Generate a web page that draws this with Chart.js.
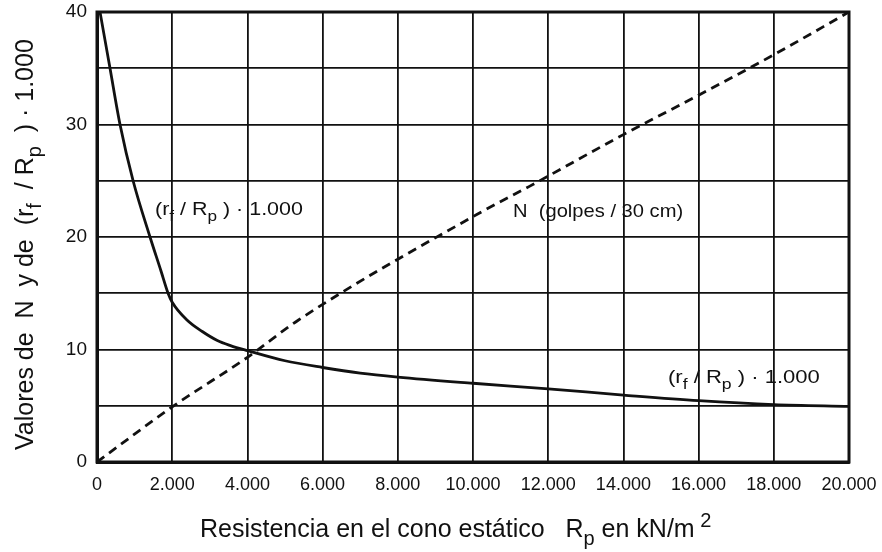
<!DOCTYPE html>
<html>
<head>
<meta charset="utf-8">
<script src="https://cdn.jsdelivr.net/npm/chart.js@4.4.0/dist/chart.umd.min.js"></script>
<style>
  html, body { margin: 0; padding: 0; background: #fff; }
  #chart { display: block; }
</style>
</head>
<body>
<canvas id="chart" width="882" height="552"></canvas>
<script>
// axis ranges
const xMin = 0, xMax = 20000, xStep = 2000;
const yMin = 0, yMax = 40, yStep = 5;
const yLabelTicks = [0, 10, 20, 30, 40];

// (rf / Rp) * 1.000 curve
const rfX = [80, 346, 612, 960, 1410, 1700, 1890, 2000, 2400, 2800, 3200, 3550, 4000, 5000, 6000, 7000, 8000, 10000, 12000, 14000, 16000, 18000, 20000];
const rfY = [40, 35, 30, 25, 20, 17, 15, 14.2, 12.6, 11.6, 10.8, 10.35, 9.9, 9.0, 8.4, 7.9, 7.55, 7.0, 6.5, 5.95, 5.45, 5.1, 4.95];

// N (golpes / 30 cm), dashed
const nX = [0, 2000, 4000, 5350, 10100, 11500, 14000, 16000, 18000, 20000];
const nY = [0, 4.9, 9.3, 12.6, 22.0, 24.5, 29.1, 32.6, 36.2, 40];

const FONT = '"Liberation Sans", Arial, Helvetica, sans-serif';
const INK = '#111';

function fmt(v) {
  return String(v).replace(/\B(?=(\d{3})+(?!\d))/g, '.');
}

// text with sub / superscripts, drawn from (x, y) on the baseline
function drawRich(ctx, parts, x, y, size, hs) {
  ctx.save();
  ctx.translate(x, y);
  ctx.scale(hs || 1, 1);
  let cx = 0;
  parts.forEach(p => {
    const s = (p.sub || p.sup) ? size * 0.8 : size;
    ctx.font = s + 'px ' + FONT;
    const dy = p.sub ? size * 0.3 : (p.sup ? -size * 0.42 : 0);
    ctx.fillText(p.t, cx, dy);
    cx += ctx.measureText(p.t).width;
  });
  ctx.restore();
}

const rfLabel = [{ t: '(r' }, { t: 'f', sub: true }, { t: ' / R' }, { t: 'p', sub: true }, { t: ' ) · 1.000' }];
const nLabel = [{ t: 'N  (golpes / 30 cm)' }];
const yTitle = [{ t: 'Valores de  N  y de  (r' }, { t: 'f', sub: true }, { t: '  / R' }, { t: 'p', sub: true }, { t: '  ) · 1.000' }];
const xTitle = [{ t: 'Resistencia en el cono estático   R' }, { t: 'p', sub: true }, { t: ' en kN/m' }, { t: ' 2', sup: true }];

const textPlugin = {
  id: 'texts',
  afterDraw(chart) {
    const ctx = chart.ctx;
    const a = chart.chartArea;
    ctx.save();
    // frame
    ctx.strokeStyle = INK;
    ctx.lineWidth = 3;
    ctx.strokeRect(a.left, a.top, a.right - a.left, a.bottom - a.top);

    ctx.fillStyle = INK;
    ctx.textAlign = 'left';
    ctx.textBaseline = 'alphabetic';
    drawRich(ctx, rfLabel, 155, 215, 19, 1.13);
    drawRich(ctx, nLabel, 513, 217, 19, 1.06);
    drawRich(ctx, rfLabel, 668, 383, 19, 1.16);
    drawRich(ctx, xTitle, 200, 537, 25);

    ctx.save();
    ctx.translate(33, 450);
    ctx.rotate(-Math.PI / 2);
    drawRich(ctx, yTitle, 0, 0, 25);
    ctx.restore();
    ctx.restore();
  }
};

new Chart(document.getElementById('chart'), {
  type: 'line',
  data: {
    datasets: [
      {
        label: '(rf / Rp) · 1.000',
        data: rfX.map((x, i) => ({ x, y: rfY[i] })),
        borderColor: INK,
        borderWidth: 2.8,
        pointRadius: 0,
        cubicInterpolationMode: 'monotone',
        fill: false
      },
      {
        label: 'N (golpes / 30 cm)',
        data: nX.map((x, i) => ({ x, y: nY[i] })),
        borderColor: INK,
        borderWidth: 2.8,
        borderDash: [9, 6],
        pointRadius: 0,
        cubicInterpolationMode: 'monotone',
        fill: false
      }
    ]
  },
  options: {
    responsive: false,
    animation: false,
    events: [],
    layout: { padding: { left: 0, right: 33, top: 12, bottom: 0 } },
    plugins: { legend: { display: false }, tooltip: { enabled: false } },
    scales: {
      x: {
        type: 'linear',
        min: xMin,
        max: xMax,
        afterFit: s => { s.height = 90; s.paddingLeft = 0; s.paddingRight = 0; },
        ticks: {
          stepSize: xStep,
          padding: 12,
          color: INK,
          font: { family: FONT, size: 18 },
          maxRotation: 0,
          callback: v => fmt(v)
        },
        grid: { color: INK, lineWidth: 1.8, drawTicks: false },
        border: { display: true, color: INK, width: 3 }
      },
      y: {
        type: 'linear',
        min: yMin,
        max: yMax,
        afterFit: s => { s.width = 97; s.paddingTop = 0; s.paddingBottom = 0; },
        ticks: {
          stepSize: yStep,
          padding: 10,
          color: INK,
          font: { family: FONT, size: 19 },
          callback: v => yLabelTicks.includes(v) ? String(v) : ''
        },
        grid: { color: INK, lineWidth: 1.8, drawTicks: false },
        border: { display: true, color: INK, width: 3 }
      }
    }
  },
  plugins: [textPlugin]
});
</script>
</body>
</html>
